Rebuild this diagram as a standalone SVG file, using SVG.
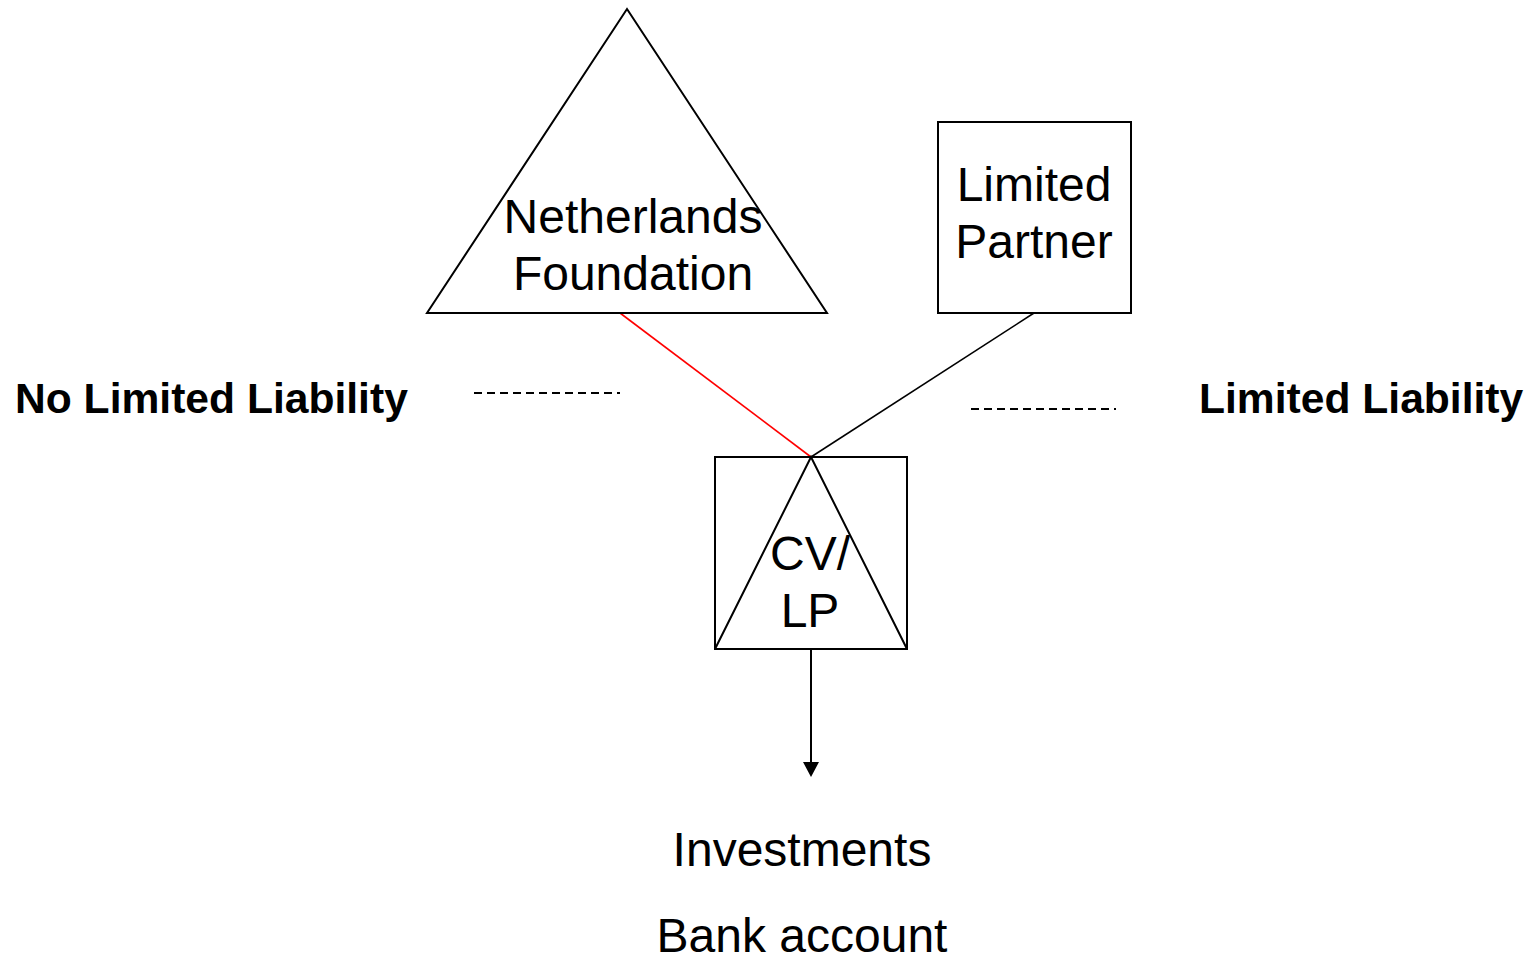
<svg xmlns="http://www.w3.org/2000/svg" width="1528" height="960" viewBox="0 0 1528 960">
<style>
.shape{fill:#fff;stroke:#000;stroke-width:2}
.t{font-family:"Liberation Sans",Arial,sans-serif;font-size:48px;fill:#000;text-anchor:middle}
.b{font-family:"Liberation Sans",Arial,sans-serif;font-size:42.6px;font-weight:bold;fill:#000}
.dash{stroke:#000;stroke-width:2;stroke-dasharray:8 5;fill:none}
.edge{stroke-width:1.6;fill:none}
</style>
<rect width="1528" height="960" fill="#fff"/>
<g id="connectors">
<line class="edge" x1="620" y1="313" x2="811" y2="457" stroke="#ff0000"/>
<line class="edge" x1="1034" y1="313" x2="811" y2="457" stroke="#000"/>
<line x1="811" y1="649" x2="811" y2="763" stroke="#000" stroke-width="2"/>
<path d="M803,762 L819,762 L811,777 Z" fill="#000"/>
<line class="dash" x1="474" y1="393" x2="620" y2="393"/>
<line class="dash" x1="971" y1="409" x2="1116" y2="409"/>
</g>
<g id="netherlands-foundation">
<polygon class="shape" points="627,9 827,313 427,313"/>
<text class="t" x="633" y="233">Netherlands</text>
<text class="t" x="633" y="290">Foundation</text>
</g>
<g id="limited-partner">
<rect class="shape" x="938" y="122" width="193" height="191"/>
<text class="t" x="1034" y="201">Limited</text>
<text class="t" x="1034" y="258">Partner</text>
</g>
<g id="cv-lp">
<rect class="shape" x="715" y="457" width="192" height="192"/>
<polyline points="715,649 811,457 907,649" fill="none" stroke="#000" stroke-width="2"/>
<text class="t" x="810" y="570">CV/</text>
<text class="t" x="810" y="627">LP</text>
</g>
<g id="investments">
<text class="t" x="802" y="866">Investments</text>
<text class="t" x="802" y="952">Bank account</text>
</g>
<g id="labels">
<text class="b" x="15" y="413">No Limited Liability</text>
<text class="b" x="1199" y="413">Limited Liability</text>
</g>
</svg>
